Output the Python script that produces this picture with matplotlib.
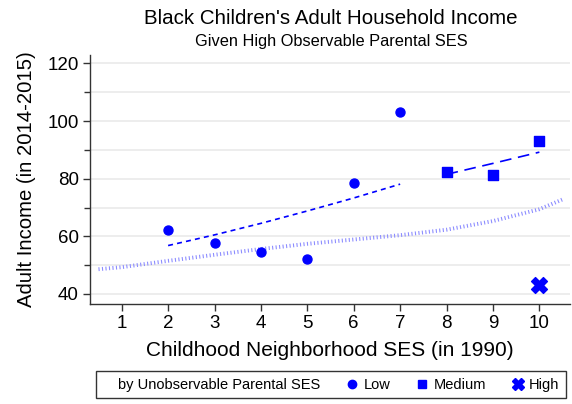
import matplotlib
matplotlib.use("Agg")
import matplotlib.pyplot as plt
from matplotlib.lines import Line2D
from matplotlib.ticker import MultipleLocator

plt.rcParams['font.family'] = ['Liberation Sans', 'DejaVu Sans']

# neighborhood SES deciles and mean adult income (thousands)
low_x = [2, 3, 4, 5, 6, 7]
low_y = [62.1, 57.6, 54.5, 52.1, 78.6, 103.1]
med_x = [8, 9, 10]
med_y = [82.4, 81.4, 93.1]
high_x = [10]
high_y = [43.1]

# fitted lines
low_fit_x = [2, 3, 4, 5, 6, 7]
low_fit_y = [56.8, 60.5, 64.5, 68.8, 73.3, 78.1]
med_fit_x = [8, 9, 10]
med_fit_y = [81.5, 85.3, 89.2]
all_fit_x = [0.5, 1, 2, 3, 4, 5, 6, 7, 8, 9, 10, 10.5]
all_fit_y = [48.6, 49.3, 51.5, 53.6, 55.6, 57.4, 58.9, 60.4, 62.3, 65.3, 69.4, 72.8]

x_ticks = list(range(1, 11))
y_ticks = [40, 60, 80, 100, 120]

blue = '#0000ff'

fig = plt.figure(figsize=(5.72, 4.04), dpi=100)
ax = fig.add_axes([90 / 572, 100.5 / 404, 480 / 572, 248.5 / 404])

ax.plot(all_fit_x, all_fit_y, color='#8c8cff', lw=2.8,
        linestyle=(0, (0.28, 0.62)), dash_capstyle='butt', zorder=2)
ax.plot(low_fit_x, low_fit_y, color=blue, lw=1.2,
        linestyle=(0, (3, 2.5)), zorder=3)
ax.plot(med_fit_x, med_fit_y, color=blue, lw=1.2,
        linestyle=(0, (7, 4)), zorder=3)

ax.scatter(low_x, low_y, marker='o', s=42, color=blue, zorder=4)
ax.scatter(med_x, med_y, marker='s', s=48, color=blue, zorder=4)
ax.scatter(high_x, high_y, marker='X', s=130, color=blue, zorder=4)

ax.set_xlim(0.317, 10.66)
ax.set_ylim(36.7, 122.9)
ax.set_xticks(x_ticks)
ax.set_yticks(y_ticks)
ax.yaxis.set_minor_locator(MultipleLocator(10))
ax.grid(True, which='both', axis='y', color='#e8e8e8', lw=1.1, zorder=0)
ax.set_axisbelow(True)

for side in ('top', 'right'):
    ax.spines[side].set_visible(False)
for side in ('left', 'bottom'):
    ax.spines[side].set_color('#333333')
    ax.spines[side].set_linewidth(1.0)

ax.tick_params(axis='both', which='major', labelsize=13.5, length=5,
               color='#333333', width=1, pad=3)
ax.tick_params(axis='y', which='minor', length=4.5, color='#333333', width=1)

ax.set_xlabel('Childhood Neighborhood SES (in 1990)', fontsize=15, labelpad=7)
ax.set_ylabel('Adult Income (in 2014-2015)', fontsize=14.6, labelpad=8)

fig.text(0.5787, 0.953, "Black Children's Adult Household Income",
         ha='center', va='center', fontsize=14.8)
fig.text(0.5787, 0.897, 'Given High Observable Parental SES',
         ha='center', va='center', fontsize=11.8)

handles = [
    Line2D([], [], linestyle='none', marker=None),
    Line2D([], [], linestyle='none', marker='o', color=blue, markersize=6),
    Line2D([], [], linestyle='none', marker='s', color=blue, markersize=6),
    Line2D([], [], linestyle='none', marker='X', color=blue, markersize=9),
]
labels = ['by Unobservable Parental SES', 'Low', 'Medium', 'High']
leg = fig.legend(handles, labels, loc='center', bbox_to_anchor=(0.5787, 0.048),
                 ncol=4, fontsize=10.5, frameon=True, fancybox=False,
                 handlelength=0.6, handletextpad=0.45, columnspacing=1.9,
                 borderpad=0.45)
leg.get_frame().set_edgecolor('black')
leg.get_frame().set_linewidth(1.0)

fig.savefig('out.png', dpi=100)
